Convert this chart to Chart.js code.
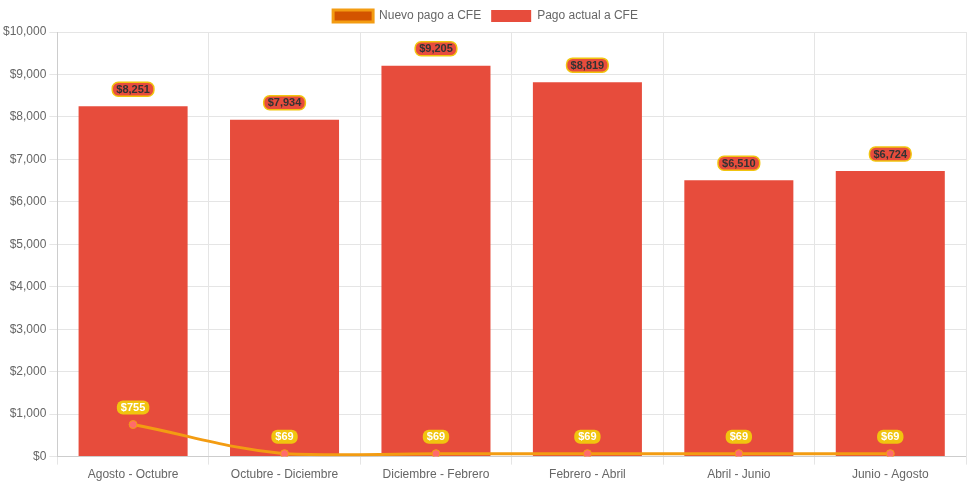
<!DOCTYPE html>
<html>
<head>
<meta charset="utf-8">
<script src="https://cdn.jsdelivr.net/npm/chart.js@4"></script>
<style>
  html, body { margin: 0; padding: 0; background: #fff; }
  #wrap { width: 971px; height: 485px; }
</style>
</head>
<body>
<div id="wrap"><canvas id="grafico"></canvas></div>
<script>
// Datos del gráfico
var periodos = ['Agosto - Octubre', 'Octubre - Diciembre', 'Diciembre - Febrero', 'Febrero - Abril', 'Abril - Junio', 'Junio - Agosto'];
var nuevoPago = [755, 69, 69, 69, 69, 69];
var pagoActual = [8251, 7934, 9205, 8819, 6510, 6724];

function dinero(v) {
    return '$' + Number(v).toLocaleString('en-US');
}

// Etiquetas tipo "pastilla" encima de cada punto / barra
var etiquetas = {
    id: 'etiquetas',
    afterDatasetsDraw: function (chart) {
        var ctx = chart.ctx;
        ctx.save();
        ctx.font = 'bold 11px "Liberation Sans", Arial, sans-serif';
        ctx.textAlign = 'center';
        ctx.textBaseline = 'middle';
        // primero las barras, después la línea
        [1, 0].forEach(function (i) {
            var ds = chart.data.datasets[i];
            var meta = chart.getDatasetMeta(i);
            meta.data.forEach(function (el, j) {
                var txt = dinero(ds.data[j]);
                var w = ctx.measureText(txt).width + 8;
                var h = 14;
                var x = el.x;
                var y = el.y - 17;
                ctx.beginPath();
                ctx.roundRect(x - w / 2, y - h / 2, w, h, 6);
                ctx.fillStyle = ds.etiquetaFondo;
                ctx.fill();
                if (ds.etiquetaBorde) {
                    ctx.lineWidth = 1.5;
                    ctx.strokeStyle = ds.etiquetaBorde;
                    ctx.stroke();
                }
                ctx.fillStyle = ds.etiquetaTexto;
                ctx.fillText(txt, x, y + 0.5);
            });
        });
        ctx.restore();
    }
};

Chart.defaults.font.family = '"Liberation Sans", Arial, sans-serif';
Chart.defaults.color = '#666';

var ctx = document.getElementById('grafico').getContext('2d');
var chart = new Chart(ctx, {
    data: {
        labels: periodos,
        datasets: [{
            type: 'line',
            label: 'Nuevo pago a CFE',
            data: nuevoPago,
            borderColor: '#f39c12',
            backgroundColor: '#d35400',
            borderWidth: 3,
            tension: 0.4,
            fill: false,
            pointRadius: 4,
            pointBackgroundColor: '#ff6b6b',
            pointBorderColor: '#f39c12',
            pointBorderWidth: 1,
            etiquetaFondo: '#f1c40f',
            etiquetaTexto: '#ffffff'
        }, {
            type: 'bar',
            label: 'Pago actual a CFE',
            data: pagoActual,
            backgroundColor: '#e74c3c',
            borderColor: '#e74c3c',
            borderWidth: 0,
            etiquetaFondo: '#e74c3c',
            etiquetaBorde: '#f1c40f',
            etiquetaTexto: '#333333'
        }]
    },
    options: {
        responsive: true,
        maintainAspectRatio: false,
        animation: false,
        plugins: {
            legend: {
                display: true,
                position: 'top'
            },
            tooltip: { enabled: false }
        },
        scales: {
            x: {
                grid: { offset: true, color: '#e5e5e5' }
            },
            y: {
                beginAtZero: true,
                min: 0,
                max: 10000,
                ticks: {
                    stepSize: 1000,
                    callback: function (v) { return dinero(v); }
                },
                grid: { color: '#e5e5e5' }
            }
        }
    },
    plugins: [etiquetas]
});
</script>
</body>
</html>
